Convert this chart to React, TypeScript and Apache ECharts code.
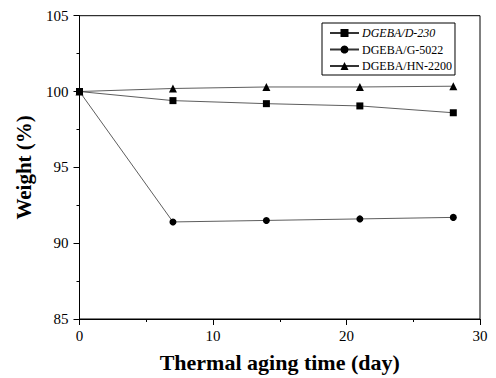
import React, { useEffect, useRef } from "react";
import * as echarts from "echarts";

const days = [0, 7, 14, 21, 28];
const d230 = [100, 99.4, 99.2, 99.05, 98.6];
const g5022 = [100, 91.4, 91.5, 91.6, 91.7];
const hn2200 = [100, 100.2, 100.3, 100.3, 100.35];
const names = ["DGEBA/D-230", "DGEBA/G-5022", "DGEBA/HN-2200"];

const FONT = "'Liberation Serif', 'Times New Roman', serif";

export default function App() {
  const ref = useRef<HTMLDivElement>(null);
  useEffect(() => {
    if (!ref.current) return;
    const chart = echarts.init(ref.current, undefined, { renderer: "svg" });
    const mk = (vals: number[]) => days.map((d, i) => [d, vals[i]]);
    const lineStyle = { color: "#333", width: 0.8 };
    chart.setOption({
      animation: false,
      backgroundColor: "#fff",
      grid: {
        left: 79.5,
        right: 16,
        top: 15.7,
        bottom: 57,
        show: true,
        borderColor: "#000",
        borderWidth: 1,
        backgroundColor: "transparent",
      },
      legend: {
        left: 322,
        top: 23,
        orient: "vertical",
        itemGap: 4.5,
        itemWidth: 29,
        itemHeight: 10,
        padding: [4, 3, 3, 7],
        borderColor: "#000",
        borderWidth: 1,
        data: names,
        formatter: (n: string) => (n === names[0] ? "{i|" + n + "}" : n),
        textStyle: {
          fontFamily: FONT,
          fontSize: 12,
          color: "#000",
          padding: [0, 0, 0, -2],
          rich: { i: { fontStyle: "italic", fontFamily: FONT, fontSize: 12, color: "#000" } },
        },
      },
      xAxis: {
        type: "value",
        min: 0,
        max: 30,
        interval: 10,
        name: "Thermal aging time (day)",
        nameLocation: "middle",
        nameGap: 32,
        nameTextStyle: { fontFamily: FONT, fontSize: 22, fontWeight: "bold", color: "#000" },
        axisLine: { lineStyle: { color: "#000", width: 1 } },
        axisTick: { show: true, length: 6, lineStyle: { color: "#000" } },
        minorTick: { show: true, splitNumber: 2, length: 3, lineStyle: { color: "#000" } },
        axisLabel: { fontFamily: FONT, fontSize: 15, color: "#000", margin: 9 },
        splitLine: { show: false },
      },
      yAxis: {
        type: "value",
        min: 85,
        max: 105,
        interval: 5,
        name: "Weight (%)",
        nameLocation: "middle",
        nameGap: 45,
        nameTextStyle: { fontFamily: FONT, fontSize: 21, fontWeight: "bold", color: "#000" },
        axisLine: { show: true, lineStyle: { color: "#000", width: 1 } },
        axisTick: { show: true, length: 6, lineStyle: { color: "#000" } },
        minorTick: { show: true, splitNumber: 2, length: 3, lineStyle: { color: "#000" } },
        axisLabel: { fontFamily: FONT, fontSize: 15, color: "#000", margin: 11 },
        splitLine: { show: false },
      },
      series: [
        {
          name: names[0],
          type: "line",
          data: mk(d230),
          symbol: "rect",
          symbolSize: 7,
          lineStyle,
          itemStyle: { color: "#000" },
        },
        {
          name: names[1],
          type: "line",
          data: mk(g5022),
          symbol: "circle",
          symbolSize: 7,
          lineStyle,
          itemStyle: { color: "#000" },
        },
        {
          name: names[2],
          type: "line",
          data: mk(hn2200),
          symbol: "triangle",
          symbolSize: 8,
          lineStyle,
          itemStyle: { color: "#000" },
        },
      ],
    });
    return () => chart.dispose();
  }, []);
  return (
    <div
      ref={ref}
      style={{ position: "fixed", left: 0, top: 0, width: 496, height: 378, background: "#fff" }}
    />
  );
}
